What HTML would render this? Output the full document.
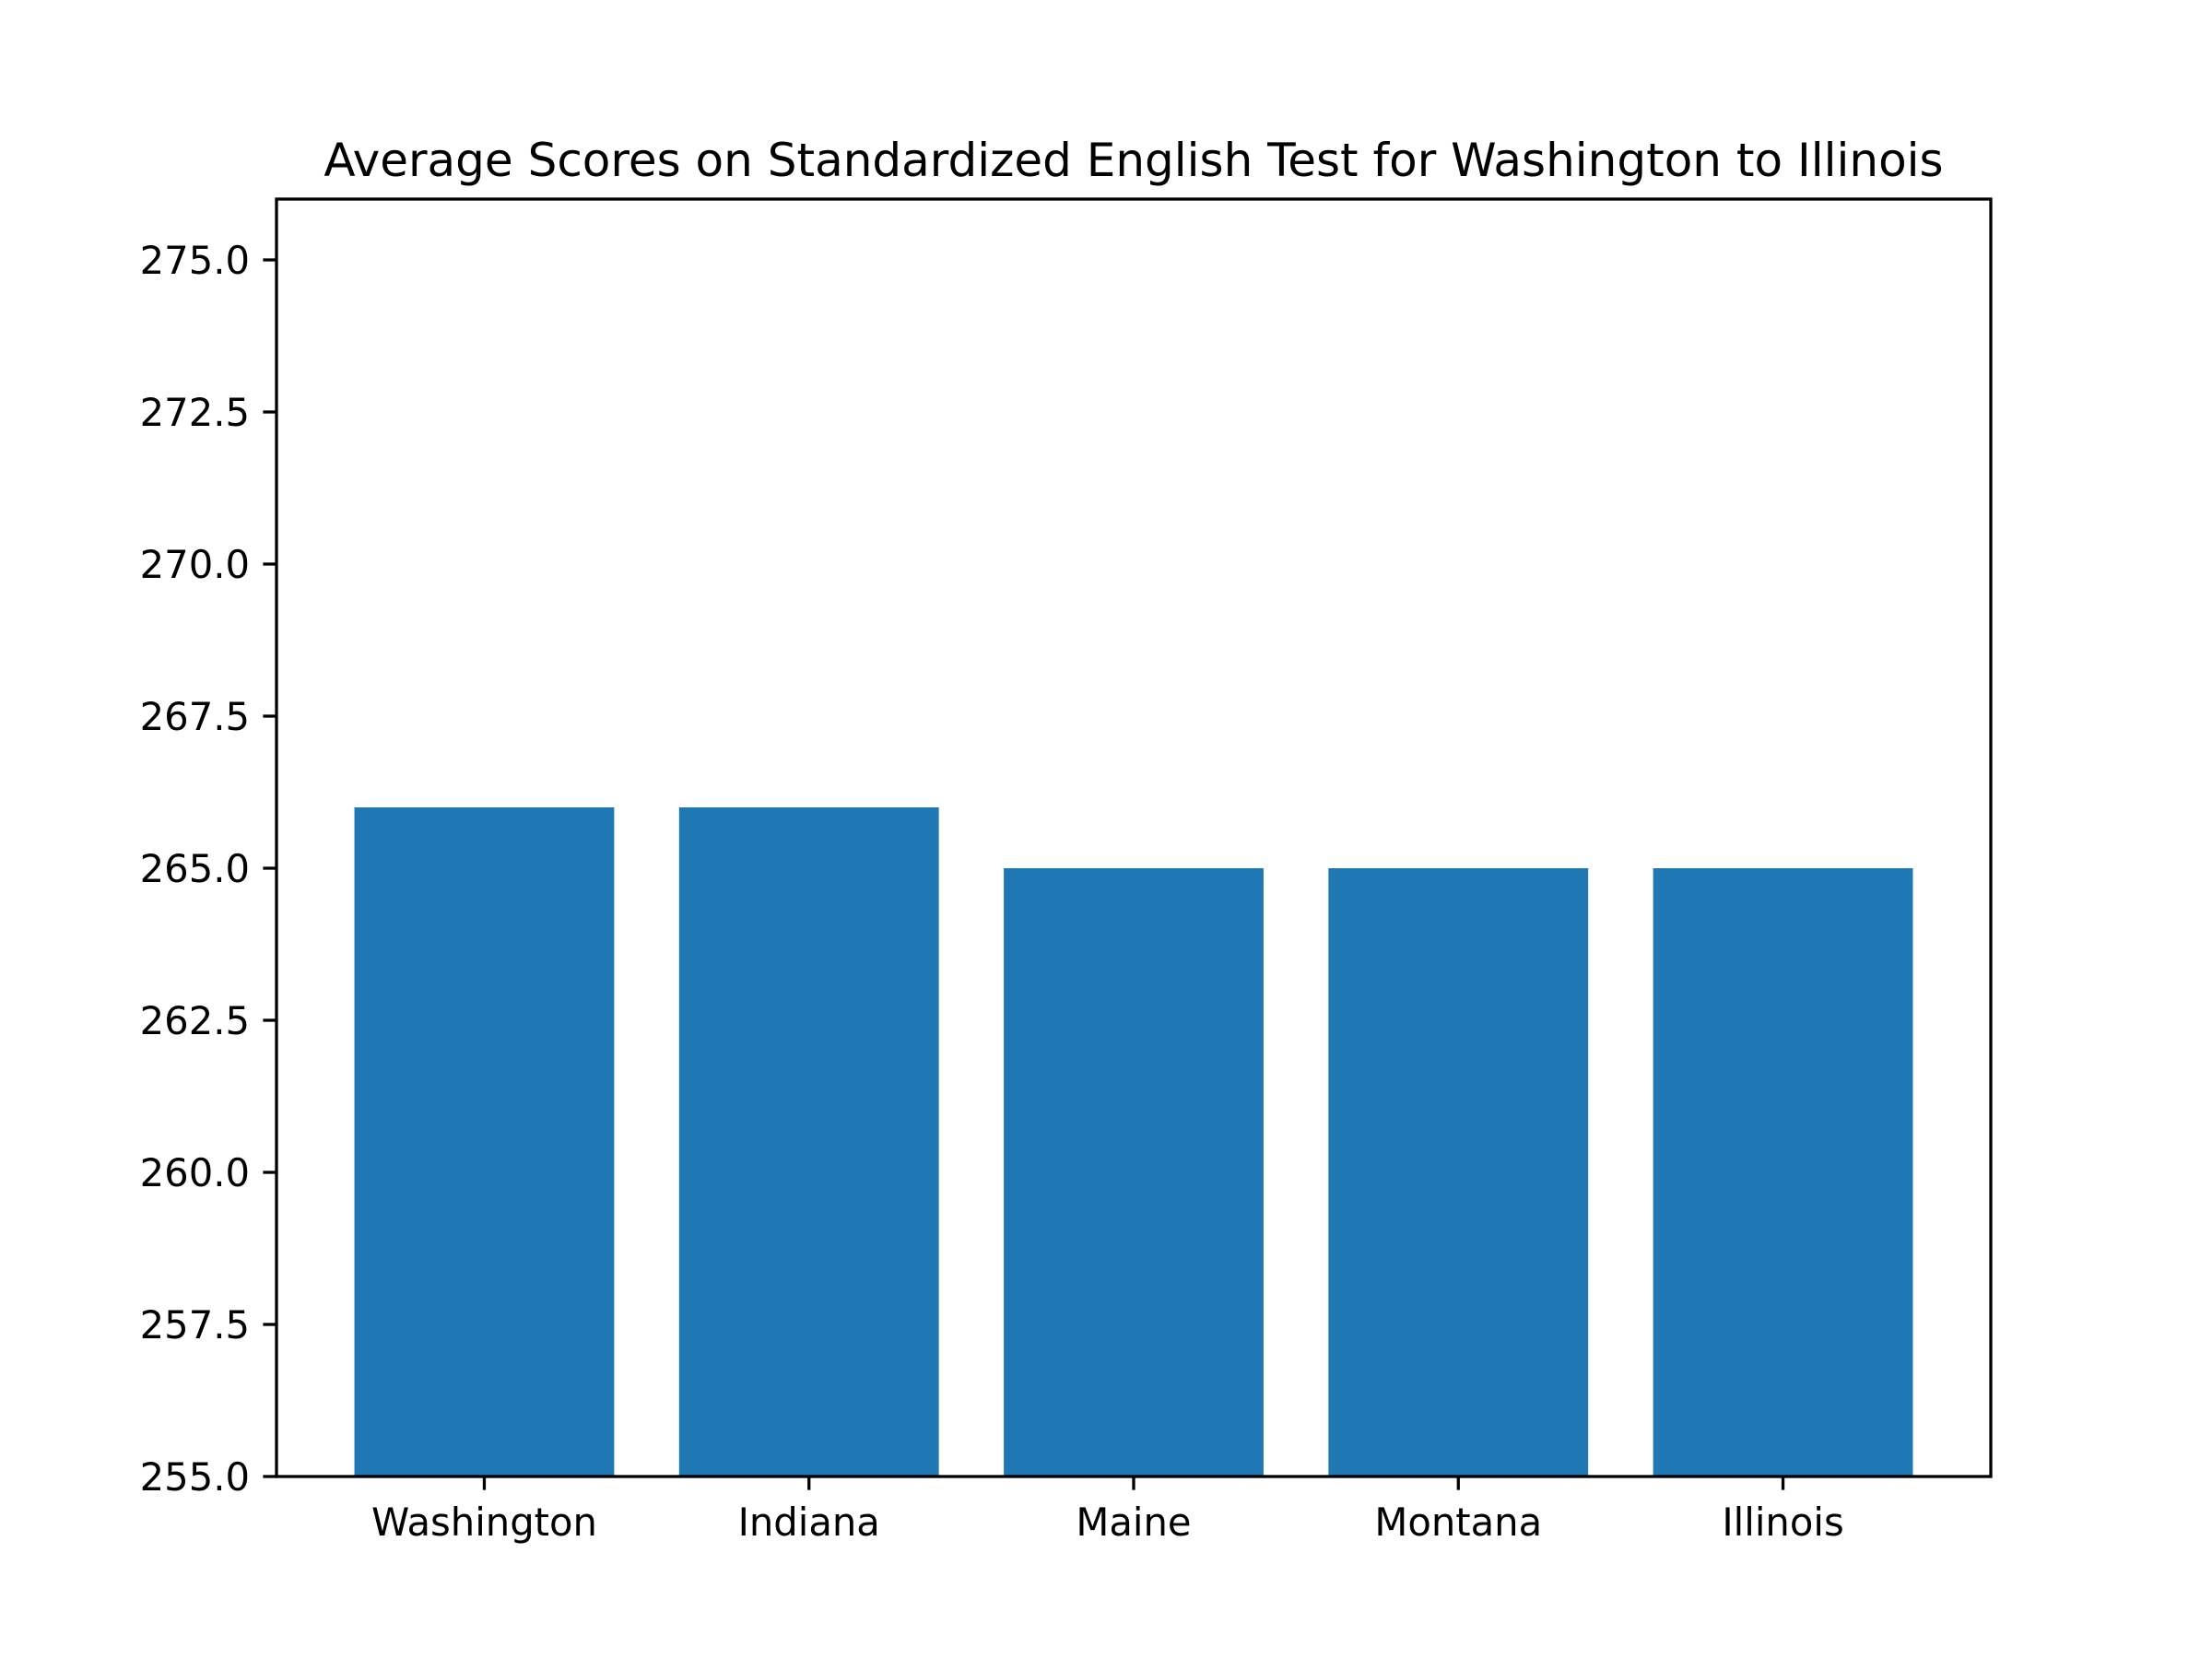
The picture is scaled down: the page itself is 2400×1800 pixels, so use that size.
<!DOCTYPE html>
<html><head><meta charset="utf-8"><style>
html,body{margin:0;padding:0;background:#fff;}
svg{display:block;font-family:"DejaVu Sans","Liberation Sans",sans-serif;}
</style></head><body>
<svg id="chart" width="2400" height="1800" viewBox="0 0 2400 1800" xmlns="http://www.w3.org/2000/svg">
<rect width="2400" height="1800" fill="#fff"/>
<text x="1230" y="191" font-size="50" text-anchor="middle" fill="#000">Average Scores on Standardized English Test for Washington to Illinois</text>
<g id="bars"></g>
<g id="yticks"></g>
<g id="xticks"></g>
<rect x="300" y="216" width="1860" height="1386" fill="none" stroke="#000" stroke-width="3.3"/>
</svg>
<script>
const categories = ["Washington","Indiana","Maine","Montana","Illinois"];
const values = [266, 266, 265, 265, 265];
const yTickValues = [255, 257.5, 260, 262.5, 265, 267.5, 270, 272.5, 275];
const yTickLabels = ["255.0","257.5","260.0","262.5","265.0","267.5","270.0","272.5","275.0"];

const L=300,R=2160,T=216,B=1602;
const yMin=255,yMax=276;
const xMin=-0.64,xMax=categories.length-1+0.64;
const X=v=>L+(v-xMin)/(xMax-xMin)*(R-L);
const Y=v=>B-(v-yMin)/(yMax-yMin)*(B-T);
const NS="http://www.w3.org/2000/svg";
function mk(tag,attrs,parent){const e=document.createElementNS(NS,tag);for(const k in attrs)e.setAttribute(k,attrs[k]);parent.appendChild(e);return e;}
const gb=document.getElementById('bars'),gy=document.getElementById('yticks'),gx=document.getElementById('xticks');
categories.forEach((c,i)=>{
  const x0=X(i-0.4),x1=X(i+0.4),y=Y(values[i]);
  const r=mk('rect',{x:x0,y:y,width:x1-x0,height:B-y,fill:'#1f77b4'},gb);
  
  
  const t=mk('line',{x1:X(i),x2:X(i),y1:B,y2:B+14.6,stroke:'#000','stroke-width':3.3},gx);
  
  
  const lb=mk('text',{x:X(i),y:B+64,'font-size':41.7,'text-anchor':'middle',fill:'#000'},gx);
  lb.textContent=c;
  
  
});
yTickValues.forEach((v,i)=>{
  const y=Y(v);
  const t=mk('line',{x1:L-14.6,x2:L,y1:y,y2:y,stroke:'#000','stroke-width':3.3},gy);
  
  
  const lb=mk('text',{x:L-29,y:y+15,'font-size':41.7,'text-anchor':'end',fill:'#000'},gy);
  lb.textContent=yTickLabels[i];
  
  
});
</script>
</body></html>
